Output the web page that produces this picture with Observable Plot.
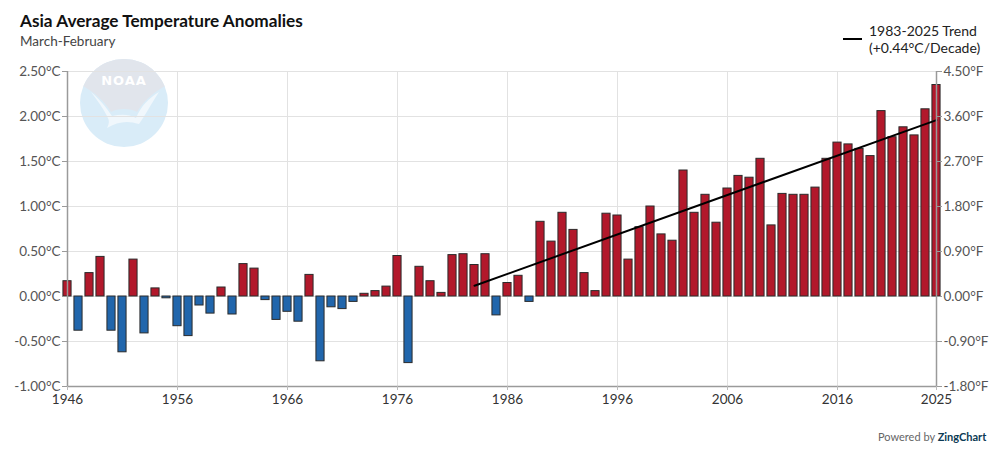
<!DOCTYPE html>
<html>
<head>
<meta charset="utf-8">
<script src="https://cdn.jsdelivr.net/npm/d3@7"></script>
<script src="https://cdn.jsdelivr.net/npm/@observablehq/plot@0.6"></script>
<style>
  html, body { margin: 0; padding: 0; background: #fff; }
  #wrap { position: relative; width: 1000px; height: 457px; font-family: Lato, "Noto Sans", sans-serif; overflow: hidden; }
  #chart { position: absolute; left: 0; top: 0; }
  .title { position: absolute; left: 20px; top: 10px; font-size: 17.2px; font-weight: 700; color: #111; }
  .subtitle { position: absolute; left: 20px; top: 33px; font-size: 13.5px; color: #444; }
  .legend { position: absolute; left: 843px; top: 22px; font-size: 14px; color: #222; line-height: 17px; }
  .legend .sw { position: absolute; left: 0; top: 16px; width: 19px; height: 2px; background: #000; }
  .legend .txt { position: absolute; left: 26px; top: 0; white-space: nowrap; }
  .powered { position: absolute; left: 878px; top: 430px; font-size: 11px; color: #666; white-space: nowrap; }
  .powered b { color: #0b3a55; }
  #logo { position: absolute; left: 79px; top: 58px; }
</style>
</head>
<body>
<div id="wrap">
  <svg id="logo" width="90" height="90" viewBox="0 0 90 90">
    <defs><clipPath id="lc"><circle cx="45" cy="45" r="44"/></clipPath></defs>
    <g clip-path="url(#lc)">
      <rect x="0" y="0" width="90" height="90" fill="#d9ecf8"/>
      <path d="M0,0 H90 V26 C74,34 64,44 58,54 C52,50 38,50 32,54 C26,44 16,34 0,26 Z" fill="#e1e5ec"/>
      <path d="M12,34 C24,44 30,54 33,58 C42,56 50,56 57,60 C62,48 70,40 80,34 C72,46 66,58 60,66 C48,62 38,64 28,70 C31,64 30,62 28,58 C24,50 18,42 12,34 Z" fill="#f0f7fc"/>
    </g>
    <text x="45" y="27" text-anchor="middle" font-family="DejaVu Sans, sans-serif" font-weight="700" font-size="13" fill="#ffffff" letter-spacing="1">NOAA</text>
  </svg>
  <div id="chart"></div>
  <div class="title">Asia Average Temperature Anomalies</div>
  <div class="subtitle">March-February</div>
  <div class="legend"><div class="sw"></div><div class="txt">1983-2025 Trend<br>(+0.44°C/Decade)</div></div>
  <div class="powered">Powered by <b>ZingChart</b></div>
</div>
<script>
const years = d3.range(1946, 2026);
const anomalies = [
  0.17, -0.38, 0.26, 0.44, -0.38, -0.62, 0.41, -0.41, 0.09, -0.02,
  -0.33, -0.44, -0.10, -0.19, 0.10, -0.20, 0.36, 0.31, -0.04, -0.26,
  -0.17, -0.28, 0.24, -0.72, -0.12, -0.14, -0.06, 0.03, 0.06, 0.11,
  0.45, -0.74, 0.33, 0.17, 0.04, 0.46, 0.47, 0.35, 0.47, -0.21,
  0.15, 0.23, -0.06, 0.83, 0.61, 0.93, 0.74, 0.26, 0.06, 0.92,
  0.90, 0.41, 0.77, 1.00, 0.69, 0.62, 1.40, 0.93, 1.13, 0.82,
  1.20, 1.34, 1.32, 1.53, 0.79, 1.14, 1.13, 1.13, 1.21, 1.53,
  1.71, 1.69, 1.64, 1.56, 2.06, 1.77, 1.88, 1.79, 2.08, 2.35
];
const trendYears = [1983, 2025];
const trendValues = [0.12, 1.96];
const xTicks = [1946, 1956, 1966, 1976, 1986, 1996, 2006, 2016, 2025];
const yTicks = [-1, -0.5, 0, 0.5, 1, 1.5, 2, 2.5];
const celsiusLabels = ["-1.00°C", "-0.50°C", "0.00°C", "0.50°C", "1.00°C", "1.50°C", "2.00°C", "2.50°C"];
const fahrenheitLabels = ["-1.80°F", "-0.90°F", "0.00°F", "0.90°F", "1.80°F", "2.70°F", "3.60°F", "4.50°F"];

const data = years.map((y, i) => ({year: y, value: anomalies[i]}));
const trend = trendYears.map((y, i) => ({year: y, value: trendValues[i]}));

const chart = Plot.plot({
  width: 1000,
  height: 457,
  marginLeft: 67,
  marginRight: 64,
  marginTop: 71,
  marginBottom: 71,
  style: {fontFamily: "Lato, Noto Sans, sans-serif", fontSize: "13px", background: "transparent"},
  x: {domain: [1946, 2025]},
  y: {domain: [-1, 2.5]},
  marks: [
    Plot.gridX(xTicks, {stroke: "#e2e2e2", strokeOpacity: 1}),
    Plot.gridY(yTicks, {stroke: "#e2e2e2", strokeOpacity: 1}),
    Plot.rectY(data, {
      x1: d => d.year - 0.37, x2: d => d.year + 0.37,
      y1: 0, y2: "value",
      fill: d => d.value >= 0 ? "#b2182b" : "#2166ac",
      stroke: "#2b2b2b", strokeWidth: 1
    }),
    Plot.line(trend, {x: "year", y: "value", stroke: "#000", strokeWidth: 2}),
    Plot.ruleX([1946], {stroke: "#9a9a9a", strokeWidth: 1.5}),
    Plot.ruleX([2025], {stroke: "#9a9a9a", strokeWidth: 1.5}),
    Plot.ruleY([-1], {stroke: "#9a9a9a", strokeWidth: 1.5}),
    Plot.axisX(xTicks, {tickFormat: d => String(d), tickSize: 4, tickPadding: 4, stroke: "#bbb", color: "#333", label: null, fontSize: 13.5}),
    Plot.axisY(yTicks, {anchor: "left", tickFormat: d => celsiusLabels[yTicks.indexOf(d)], tickSize: 5, tickPadding: 2, stroke: "#9a9a9a", color: "#555", label: null, fontSize: 13.5}),
    Plot.axisY(yTicks, {anchor: "right", tickFormat: d => fahrenheitLabels[yTicks.indexOf(d)], tickSize: 5, tickPadding: 2, stroke: "#9a9a9a", color: "#555", label: null, fontSize: 13.5})
  ]
});
document.getElementById("chart").appendChild(chart);
</script>
</body>
</html>
